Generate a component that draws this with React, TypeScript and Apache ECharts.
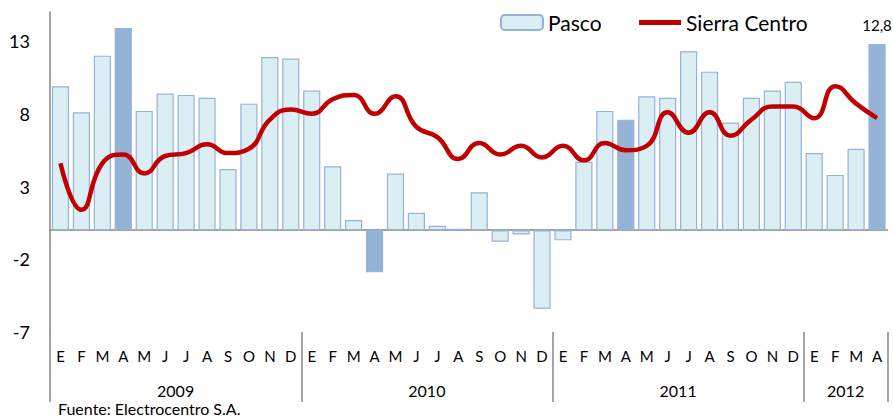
import React, { useEffect, useRef } from "react";
import * as echarts from "echarts";

const monthLetters = ["E", "F", "M", "A", "M", "J", "J", "A", "S", "O", "N", "D"];
const years = ["2009", "2010", "2011", "2012"];
const monthsPerYear = [12, 12, 12, 4];

const pasco = [
  9.9, 8.1, 12.0, 13.9, 8.2, 9.4, 9.3, 9.1, 4.2, 8.7, 11.9, 11.8,
  9.6, 4.4, 0.7, -2.9, 3.9, 1.2, 0.3, 0.1, 2.6, -0.8, -0.3, -5.4,
  -0.7, 4.7, 8.2, 7.6, 9.2, 9.1, 12.3, 10.9, 7.4, 9.1, 9.6, 10.2,
  5.3, 3.8, 5.6, 12.8,
];

const sierraCentro = [
  4.6, 1.4, 4.6, 5.2, 3.9, 5.1, 5.3, 5.9, 5.3, 5.6, 7.6, 8.3,
  8.0, 9.0, 9.3, 8.0, 9.2, 7.1, 6.4, 4.9, 6.0, 5.2, 5.8, 5.0,
  5.8, 4.8, 6.0, 5.5, 5.8, 8.1, 6.7, 8.1, 6.5, 7.6, 8.5, 8.5,
  7.7, 9.9, 8.7, 7.7,
];

const yTicks = [-7, -2, 3, 8, 13];

const FONT = "Lato, 'Open Sans', sans-serif";

export default function App() {
  const ref = useRef<HTMLDivElement>(null);

  useEffect(() => {
    if (!ref.current) return;
    const chart = echarts.init(ref.current, undefined, { renderer: "svg" });

    const categories: string[] = [];
    const monthLabels: string[] = [];
    years.forEach((y, yi) => {
      for (let m = 0; m < monthsPerYear[yi]; m++) {
        categories.push(y + "-" + m);
        monthLabels.push(monthLetters[m]);
      }
    });
    const n = categories.length;

    const boundaryData: string[] = new Array(n + 1).fill("");
    const boundaryIdx: number[] = [0];
    let start = 0;
    years.forEach((y, yi) => {
      const len = monthsPerYear[yi];
      boundaryData[start + len / 2] = y;
      start += len;
      boundaryIdx.push(start);
    });

    const barData = pasco.map((v, i) => {
      const isApril = i % 12 === 3;
      const isLast = i === n - 1;
      return {
        value: v,
        itemStyle: isApril ? { color: "#95B3D7", borderColor: "#95B3D7" } : undefined,
        label: isLast
          ? {
              show: true,
              position: "top",
              distance: 12,
              formatter: (p: any) => String(p.value).replace(".", ","),
              color: "#000",
              fontSize: 15,
              fontFamily: FONT,
            }
          : undefined,
      };
    });

    const option: any = {
      animation: false,
      textStyle: { fontFamily: FONT },
      legend: {
        left: 500,
        top: 12,
        padding: 0,
        itemWidth: 42,
        itemHeight: 15,
        itemGap: 35,
        textStyle: { fontSize: 21, color: "#000", fontFamily: FONT },
        data: [
          { name: "Pasco" },
          {
            name: "Sierra Centro",
            itemStyle: { opacity: 0 },
            lineStyle: { width: 5, color: "#C00000" },
          },
        ],
      },
      grid: { left: 50, right: 5.5, top: 12, bottom: 84, containLabel: false },
      xAxis: [
        {
          type: "category",
          data: categories,
          axisLine: { show: true, onZero: true, lineStyle: { color: "#868686", width: 1.5 } },
          axisTick: { show: false },
          axisLabel: { show: false },
          splitLine: { show: false },
        },
        {
          type: "category",
          data: monthLabels,
          position: "bottom",
          axisLine: { show: false, onZero: false },
          axisTick: { show: false },
          axisLabel: {
            show: true,
            interval: 0,
            margin: 16,
            fontSize: 15,
            color: "#000",
            fontFamily: FONT,
          },
          splitLine: { show: false },
        },
        {
          type: "category",
          data: boundaryData,
          boundaryGap: false,
          position: "bottom",
          axisLine: { show: false, onZero: false },
          axisTick: {
            show: true,
            length: 70,
            interval: (idx: number) => boundaryIdx.indexOf(idx) >= 0,
            lineStyle: { color: "#868686", width: 1.5 },
          },
          axisLabel: {
            show: true,
            interval: 0,
            margin: 50,
            fontSize: 16,
            lineHeight: 16,
            color: "#000",
            fontFamily: FONT,
          },
          splitLine: { show: false },
        },
      ],
      yAxis: {
        type: "value",
        min: yTicks[0],
        max: 15,
        interval: yTicks[1] - yTicks[0],
        axisLine: { show: true, lineStyle: { color: "#868686", width: 1.5 } },
        axisTick: { show: false },
        splitLine: { show: false },
        axisLabel: {
          showMaxLabel: false,
          margin: 20,
          fontSize: 18,
          color: "#000",
          fontFamily: FONT,
        },
      },
      series: [
        {
          name: "Pasco",
          type: "bar",
          xAxisIndex: 0,
          data: barData,
          barCategoryGap: "18%",
          itemStyle: { color: "#DBEEF4", borderColor: "#95B3D7", borderWidth: 1.2 },
          z: 2,
        },
        {
          name: "Sierra Centro",
          type: "line",
          xAxisIndex: 0,
          data: sierraCentro,
          smooth: 0.5,
          symbol: "none",
          lineStyle: { color: "#C00000", width: 4.5 },
          itemStyle: { color: "#C00000" },
          z: 3,
        },
      ],
      graphic: [
        {
          type: "text",
          left: 58,
          top: 400,
          style: {
            text: "Fuente: Electrocentro S.A.",
            fontSize: 16,
            lineHeight: 16,
            fill: "#000",
            fontFamily: FONT,
          },
        },
      ],
    };

    chart.setOption(option);
    return () => chart.dispose();
  }, []);

  return (
    <div
      ref={ref}
      style={{ position: "absolute", left: 0, top: 0, width: 893, height: 416 }}
    />
  );
}
